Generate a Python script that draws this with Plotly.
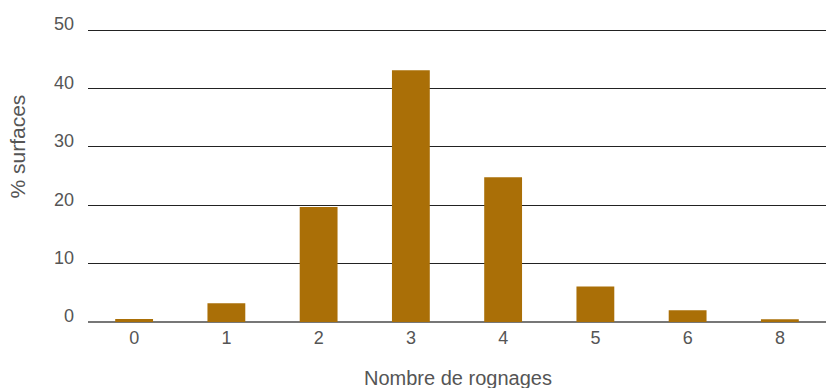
import plotly.graph_objects as go

categories = ["0", "1", "2", "3", "4", "5", "6", "8"]
values = [0.5, 3.2, 19.7, 43.1, 24.8, 6.1, 2.0, 0.45]
y_ticks = [0, 10, 20, 30, 40, 50]

W, H = 826, 388
L, R, T, B = 88, 0, 28, 66
plot_w = W - L - R
plot_h = H - T - B
y_top = 50 * plot_h / 292.0  # keep 0..50 over 292 px

fig = go.Figure(go.Bar(x=categories, y=values, marker=dict(color="#AA6F07", line=dict(width=0)),
                       width=0.41))

fig.update_layout(
    width=W, height=H,
    margin=dict(l=L, r=R, t=T, b=B),
    plot_bgcolor="white", paper_bgcolor="white",
    font=dict(family="Liberation Sans, Arial, sans-serif", color="#555555", size=18),
    showlegend=False,
    xaxis=dict(type="category", showgrid=False, showline=False, ticks="",
               ticklabelstandoff=3,
               tickfont=dict(size=18, color="#555555")),
    yaxis=dict(range=[0, y_top], tickvals=y_ticks, showgrid=True, gridcolor="#222222", gridwidth=1,
               zeroline=True, zerolinecolor="#777777", zerolinewidth=1.5,
               showline=False, ticks="", ticklabelstandoff=13, ticklabelshift=-6,
               tickfont=dict(size=18, color="#555555")),
    annotations=[
        dict(text="% surfaces", xref="paper", yref="paper", showarrow=False,
             textangle=-90, font=dict(size=21, color="#555555"),
             xanchor="center", yanchor="middle",
             x=(17 - L) / plot_w, y=(322 - 146.5) / plot_h),
        dict(text="Nombre de rognages", xref="paper", yref="paper", showarrow=False,
             font=dict(size=20, color="#555555"),
             xanchor="center", yanchor="middle",
             x=(457.5 - L) / plot_w, y=(322 - 378) / plot_h),
    ],
)

fig.write_html("out.html")
